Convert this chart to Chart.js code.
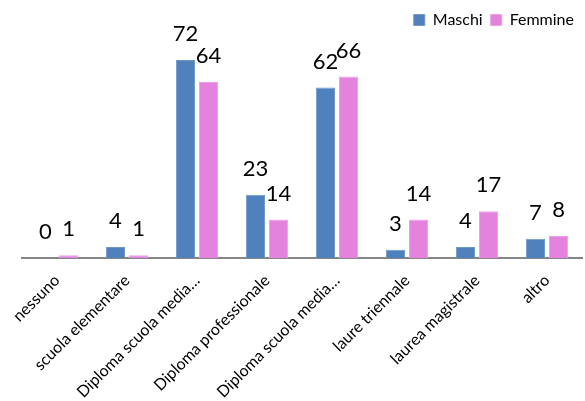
<!doctype html>
<html>
<head>
    <title>Titolo di studio</title>
    <script src="https://cdn.jsdelivr.net/npm/chart.js"></script>
    <style>
        body { margin: 0; background: #fff; }
    </style>
</head>
<body>
    <div style="width: 585px; height: 401px;">
        <canvas id="grafico" width="585" height="401"></canvas>
    </div>

    <script>
        // dati
        var categorie = ['nessuno', 'scuola elementare', 'Diploma scuola media…', 'Diploma professionale',
            'Diploma scuola media…', 'laure triennale', 'laurea magistrale', 'altro'];
        var maschi = [0, 4, 72, 23, 62, 3, 4, 7];
        var femmine = [1, 1, 64, 14, 66, 14, 17, 8];

        // scrive il valore sopra ogni barra
        var etichette = {
            id: 'etichette',
            afterDatasetsDraw(chart) {
                var ctx = chart.ctx;
                ctx.save();
                ctx.font = '22px Lato';
                ctx.fillStyle = '#000';
                ctx.textAlign = 'center';
                ctx.textBaseline = 'alphabetic';
                chart.data.datasets.forEach((ds, i) => {
                    chart.getDatasetMeta(i).data.forEach((bar, j) => {
                        ctx.fillText(ds.data[j], bar.x, bar.y - 19);
                    });
                });
                ctx.restore();
            }
        };

        var grafico = new Chart(document.getElementById('grafico').getContext('2d'), {
            type: 'bar',
            data: {
                labels: categorie,
                datasets: [{
                    label: 'Maschi',
                    data: maschi,
                    backgroundColor: '#4F81BD',
                    borderColor: '#6F97C9',
                    borderWidth: 1
                }, {
                    label: 'Femmine',
                    data: femmine,
                    backgroundColor: '#E383DE',
                    borderColor: '#EAA0E6',
                    borderWidth: 1
                }]
            },
            options: {
                responsive: false,
                animation: false,
                datasets: {
                    bar: { categoryPercentage: 0.66, barPercentage: 0.83 }
                },
                layout: { padding: { left: 22, right: 3, top: 4, bottom: 0 } },
                scales: {
                    x: {
                        grid: { display: false },
                        border: { display: true, color: '#868686', width: 2 },
                        ticks: {
                            color: '#000',
                            font: { family: 'Lato', size: 16 },
                            maxRotation: 45,
                            minRotation: 45,
                            autoSkip: false,
                            padding: 5
                        },
                        afterFit(scale) {
                            scale.height = 143;
                            scale.paddingLeft = 0;
                            scale.paddingRight = 0;
                        }
                    },
                    y: {
                        display: false,
                        min: 0,
                        max: 80
                    }
                },
                plugins: {
                    legend: {
                        position: 'top',
                        align: 'end',
                        labels: {
                            color: '#000',
                            font: { family: 'Lato', size: 16 },
                            boxWidth: 11,
                            boxHeight: 11,
                            padding: 8
                        }
                    },
                    tooltip: { enabled: false }
                }
            },
            plugins: [etichette]
        });
    </script>
</body>
</html>
